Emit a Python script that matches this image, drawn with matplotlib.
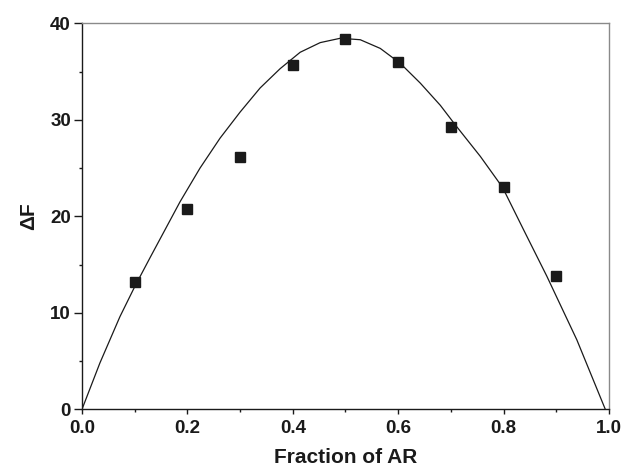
import matplotlib
matplotlib.use("Agg")
import matplotlib.pyplot as plt
from matplotlib.ticker import MultipleLocator, FormatStrFormatter

plt.rcParams['font.family'] = ['Liberation Sans', 'DejaVu Sans']

# measured data points
frac = [0.1, 0.2, 0.3, 0.4, 0.5, 0.6, 0.7, 0.8, 0.9]
dF = [13.2, 20.8, 26.1, 35.7, 38.4, 36.0, 29.3, 23.0, 13.8]

# fitted curve
fit_x = [0.0, 0.034, 0.072, 0.10, 0.13, 0.186, 0.224, 0.262, 0.300, 0.338,
         0.376, 0.414, 0.452, 0.490, 0.528, 0.566, 0.604, 0.642, 0.680,
         0.708, 0.756, 0.798, 0.838, 0.882, 0.939, 0.993]
fit_y = [0.0, 4.8, 9.6, 12.7, 15.8, 21.5, 25.0, 28.1, 30.8, 33.3,
         35.3, 37.0, 38.0, 38.45, 38.3, 37.4, 35.85, 33.8, 31.5,
         29.5, 26.2, 23.0, 18.6, 13.8, 7.2, 0.0]

fig = plt.figure(figsize=(6.23, 4.74), dpi=100)
ax = fig.add_axes([0.1316, 0.1365, 0.8459, 0.8143])

ax.plot(fit_x, fit_y, color='#1a1a1a', lw=0.9, zorder=2, solid_joinstyle='round')
ax.plot(frac, dF, ls='none', marker='s', ms=6.5, color='#1a1a1a', zorder=3)

ax.set_xlim(0, 1.0)
ax.set_ylim(0, 40)
ax.xaxis.set_major_locator(MultipleLocator(0.2))
ax.xaxis.set_minor_locator(MultipleLocator(0.1))
ax.yaxis.set_major_locator(MultipleLocator(10))
ax.yaxis.set_minor_locator(MultipleLocator(5))
ax.xaxis.set_major_formatter(FormatStrFormatter('%.1f'))
ax.yaxis.set_major_formatter(FormatStrFormatter('%d'))

for s in ['top', 'right']:
    ax.spines[s].set_color('#8a8a8a')
    ax.spines[s].set_linewidth(1.0)
for s in ['left', 'bottom']:
    ax.spines[s].set_color('#1a1a1a')
    ax.spines[s].set_linewidth(1.0)

ax.tick_params(axis='x', which='major', direction='out', length=3.5, width=1.0,
               colors='#1a1a1a', labelsize=13.5, pad=4)
ax.tick_params(axis='x', which='minor', direction='out', length=2.4, width=1.0,
               colors='#1a1a1a')
ax.tick_params(axis='y', which='major', direction='out', length=6, width=1.0,
               colors='#1a1a1a', labelsize=13.5, pad=2)
ax.tick_params(axis='y', which='minor', direction='out', length=2.4, width=1.0,
               colors='#1a1a1a')
for lbl in ax.get_xticklabels() + ax.get_yticklabels():
    lbl.set_fontweight('bold')

ax.set_xlabel('Fraction of AR', fontsize=15, fontweight='bold', color='#1a1a1a', labelpad=8)
ax.set_ylabel('ΔF', fontsize=15, fontweight='bold', color='#1a1a1a', labelpad=9)

fig.savefig('out.png', dpi=100)
